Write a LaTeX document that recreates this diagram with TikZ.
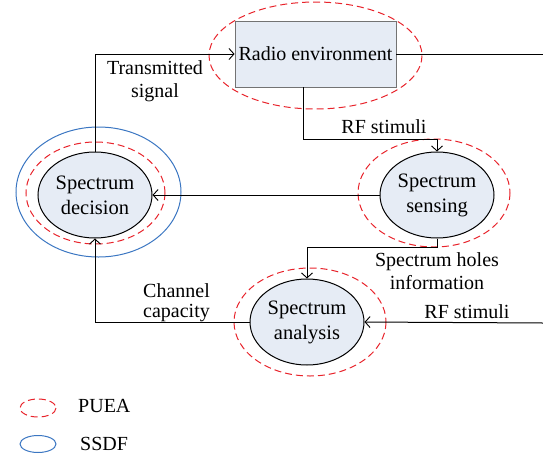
\documentclass[tikz,border=0pt]{standalone}
\usepackage{fontspec}
\setmainfont{Liberation Serif}
\usetikzlibrary{shapes.geometric,arrows.meta,calc}
\definecolor{nodefill}{HTML}{E6ECF5}
\definecolor{pured}{HTML}{E8232B}
\definecolor{ssdfblue}{HTML}{3B76C2}
\tikzset{
  conn/.style={draw=black, line width=1pt},
  arr/.style={conn, -{Straight Barb[length=5pt,width=11pt,line width=0.9pt]}},
  blob/.style={ellipse, draw=black, line width=1pt, fill=nodefill, inner sep=0pt,
               minimum width=114pt, minimum height=86pt, align=center,
               font=\fontsize{20.5}{25}\selectfont},
  puea/.style={draw=pured, line width=1pt, dash pattern=on 7pt off 4pt},
  ssdf/.style={draw=ssdfblue, line width=1pt},
  lbl/.style={align=center, inner sep=0pt, font=\fontsize{20}{23}\selectfont},
}
\begin{document}
\begin{tikzpicture}[x=1pt,y=-1pt]
\useasboundingbox (0,0) rectangle (543,461);

% radio environment
\node[draw=gray!90!black, line width=0.8pt, fill=nodefill, minimum width=161pt, minimum height=66pt,
      inner sep=0pt, font=\fontsize{20}{23}\selectfont] (radio) at (315.5,54) {Radio environment};
\draw[puea] (315.5,55.5) ellipse [x radius=106.5, y radius=53.5];

% spectrum decision
\node[blob] (dec) at (95,195) {Spectrum\\decision};
\draw[puea] (95.5,193) ellipse [x radius=69.5, y radius=51];
\draw[ssdf] (98.5,192) ellipse [x radius=82.5, y radius=65];

% spectrum sensing
\node[blob] (sens) at (437,195) {Spectrum\\sensing};
\draw[puea] (434,193) ellipse [x radius=76, y radius=54];

% spectrum analysis
\node[blob] (ana) at (307,322) {Spectrum\\analysis};
\draw[puea] (310,322) ellipse [x radius=76, y radius=54];

% connectors
\coordinate (outR) at (543,54);
\coordinate (inR) at (543,323);
\coordinate (rfx) at (303,139);
\coordinate (sh) at (307,247);

\draw[arr] (dec.north) |- (radio.west);
\draw[conn] (radio.east) -- (outR);
\draw[arr] (rfx |- radio.south) -- (rfx) -| (sens.north);
\draw[arr] (sens.west) -- (dec.east);
\draw[arr] (sens.south) |- (sh) -- (sh |- ana.north);
\draw[arr] (inR) -- (ana.east);
\draw[arr] (ana.west) -| (dec.south);

% labels
\node[lbl] (l1) at (155,81) {Transmitted\\signal};
\node[lbl] (l2) at (384,127) {RF stimuli};
\node[lbl] (l3) at (437,271) {Spectrum holes\\information};
\node[lbl, align=left, font=\fontsize{20}{20}\selectfont, anchor=west] (l4) at (143,303) {Channel\\capacity};
\node[lbl] (l5) at (467,312) {RF stimuli};

% legend
\draw[puea] (38,408) ellipse [x radius=18, y radius=9];
\node[lbl, anchor=west] (lp) at (78,406) {PUEA};
\draw[ssdf] (38,444) ellipse [x radius=18, y radius=8.5];
\node[lbl, anchor=west] (ls) at (80,444) {SSDF};
\end{tikzpicture}
\end{document}
